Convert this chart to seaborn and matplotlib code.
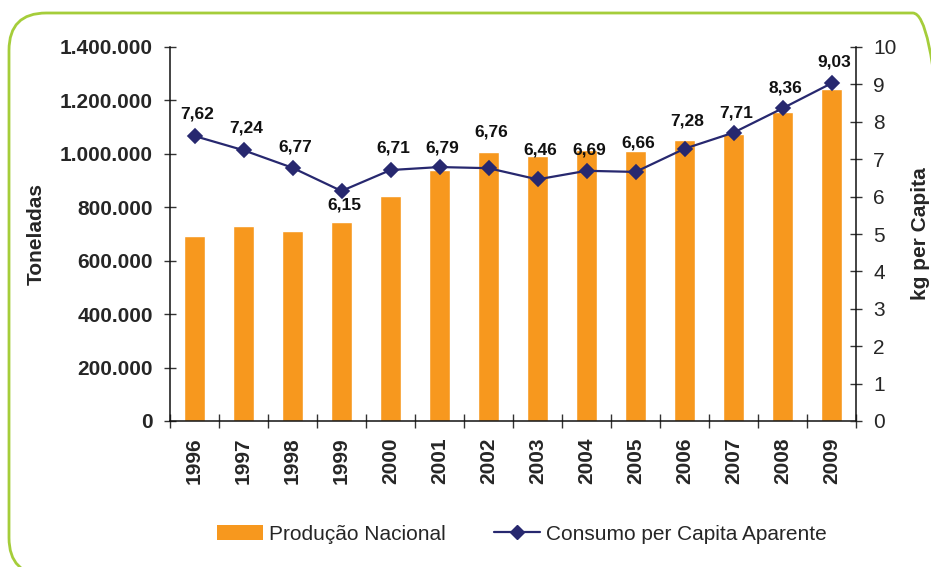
import matplotlib
matplotlib.use("Agg")
import matplotlib.pyplot as plt
from matplotlib.patches import FancyBboxPatch, Patch
from matplotlib.lines import Line2D
from matplotlib.ticker import FuncFormatter, FixedLocator
import seaborn as sns
import pandas as pd
import numpy as np

# Production (tonnes) and apparent per-capita consumption (kg)
anos = ["1996", "1997", "1998", "1999", "2000", "2001", "2002",
        "2003", "2004", "2005", "2006", "2007", "2008", "2009"]
producao = [693000, 730000, 711000, 745000, 842000, 940000, 1007000,
            992000, 1014000, 1010000, 1052000, 1074000, 1157000, 1243000]
consumo = [7.62, 7.24, 6.77, 6.15, 6.71, 6.79, 6.76,
           6.46, 6.69, 6.66, 7.28, 7.71, 8.36, 9.03]
rotulos = ["7,62", "7,24", "6,77", "6,15", "6,71", "6,79", "6,76",
           "6,46", "6,69", "6,66", "7,28", "7,71", "8,36", "9,03"]

# vertical placement of each value label relative to its marker (points)
desloc_rotulo = [16, 16, 15, -10, 16, 14, 26, 21, 15, 21, 20, 14, 15, 15]

df = pd.DataFrame({"Ano": anos, "Producao": producao, "Consumo": consumo})

COR_BARRA = "#F7981E"
COR_LINHA = "#27286F"
COR_BORDA = "#A5CD3A"

sns.set_theme(style="white")
plt.rcParams["font.family"] = ["Liberation Sans", "DejaVu Sans"]

fig = plt.figure(figsize=(9.31, 5.67), dpi=100)
fig.patch.set_facecolor("white")

# rounded green frame
frame = FancyBboxPatch((9 / 931, 1 - 575 / 567), (950 - 9) / 931, (575 - 13) / 567,
                       boxstyle="round,pad=0,rounding_size=0.04",
                       transform=fig.transFigure, fill=False,
                       edgecolor=COR_BORDA, linewidth=2, clip_on=False,
                       mutation_aspect=931 / 567)
fig.patches.append(frame)

ax = fig.add_axes([170 / 931, 1 - 421 / 567, (856 - 170) / 931, (421 - 47) / 567])
sns.barplot(data=df, x="Ano", y="Producao", color=COR_BARRA, width=0.41,
            saturation=1, ax=ax, zorder=2)
ax.set_ylim(0, 1400000)
ax.set_yticks(np.arange(0, 1400001, 200000))
ax.yaxis.set_major_formatter(FuncFormatter(lambda v, p: f"{int(v):,}".replace(",", ".")))
ax.set_xlim(-0.5, len(anos) - 0.5)

ax2 = ax.twinx()
sns.pointplot(data=df, x="Ano", y="Consumo", color=COR_LINHA, markers="D",
              linestyles="-", errorbar=None, ax=ax2, markersize=7, linewidth=1.6)
ax2.set_ylim(0, 10)
ax2.set_yticks(range(0, 11))
ax2.set_xlim(-0.5, len(anos) - 0.5)

for i, (v, txt, dy) in enumerate(zip(consumo, rotulos, desloc_rotulo)):
    ax2.annotate(txt, (i, v), xytext=(2, dy), textcoords="offset points",
                 ha="center", va="center", fontsize=12.5, fontweight="bold",
                 color="#111111")

# spines and ticks
for a in (ax, ax2):
    a.spines["top"].set_visible(False)
    for s in a.spines.values():
        s.set_color("#111111")
        s.set_linewidth(1.1)
ax.spines["right"].set_visible(False)
ax2.spines["left"].set_visible(False)
ax2.spines["bottom"].set_visible(False)

ax.tick_params(axis="y", direction="inout", length=9, width=1, color="#333333",
               pad=8, labelsize=15, left=True)
for lab in ax.get_yticklabels():
    lab.set_fontweight("bold")
ax2.tick_params(axis="y", direction="inout", length=9, width=1, color="#333333",
                pad=8, labelsize=15, right=True)

ax.set_xticks(range(len(anos)))
ax.set_xticklabels(anos, rotation=90, fontsize=15, fontweight="bold")
ax.xaxis.set_minor_locator(FixedLocator(np.arange(-0.5, len(anos), 1.0)))
ax.tick_params(axis="x", which="major", length=0, pad=12, bottom=True)
ax.tick_params(axis="x", which="minor", direction="inout", length=10, width=1,
               color="#333333", bottom=True)
ax2.tick_params(axis="x", which="both", length=0, labelbottom=False, bottom=False)

ax.set_xlabel("")
ax.set_ylabel("Toneladas", fontsize=15, fontweight="bold", labelpad=10)
ax2.set_ylabel("kg per Capita", fontsize=15, fontweight="bold", rotation=90,
               labelpad=10)
ax.grid(False)
ax2.grid(False)

handles = [Patch(facecolor=COR_BARRA, edgecolor="none"),
           Line2D([0], [0], color=COR_LINHA, marker="D", markersize=7, linewidth=1.6)]
fig.legend(handles, ["Produção Nacional", "Consumo per Capita Aparente"],
           loc="center", bbox_to_anchor=(522 / 931, 1 - 534 / 567), ncol=2,
           frameon=False, fontsize=15, handlelength=2.2, handleheight=0.7,
           handletextpad=0.3, columnspacing=2.3)

fig.savefig("out.png", dpi=100, facecolor="white")
